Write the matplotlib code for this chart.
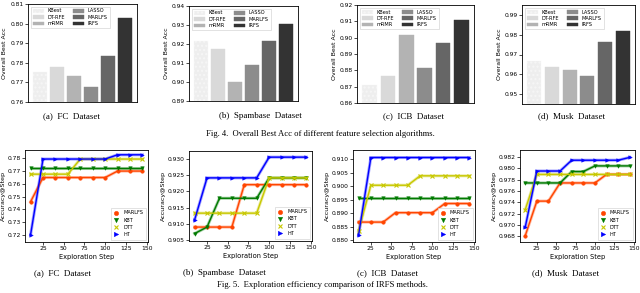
import matplotlib; matplotlib.use('Agg')
import matplotlib.pyplot as plt
from matplotlib.lines import Line2D

# ---- data: Fig. 4 (overall best accuracy) ----
methods = ["KBest", "DT-RFE", "mRMR", "LASSO", "MARLFS", "IRFS"]
bar_fc = [0.7752, 0.7777, 0.7732, 0.7678, 0.7837, 0.8030]
bar_spam = [0.9218, 0.9175, 0.8998, 0.9088, 0.9218, 0.9305]
bar_icb = [0.8712, 0.8763, 0.9017, 0.8815, 0.8970, 0.9108]
bar_musk = [0.9667, 0.9635, 0.9621, 0.9591, 0.9763, 0.9818]

# ---- data: Fig. 5 (accuracy per exploration step) ----
steps = [10, 25, 40, 55, 70, 85, 100, 115, 130, 145]
series_names = ["MARLFS", "KBT", "DTT", "HT"]

fc_marlfs = [0.746, 0.7647, 0.7647, 0.7647, 0.7647, 0.7647, 0.7647, 0.7697, 0.7697, 0.7697]
fc_kbt = [0.7717] * 10
fc_dtt = [0.7673, 0.7673, 0.7673, 0.7673, 0.779, 0.779, 0.779, 0.779, 0.779, 0.779]
fc_ht = [0.7205, 0.779, 0.779, 0.779, 0.779, 0.779, 0.779, 0.7823, 0.7823, 0.7823]

sp_marlfs = [0.9090, 0.9090, 0.9090, 0.9090, 0.9221, 0.9221, 0.9221, 0.9221, 0.9221, 0.9221]
sp_kbt = [0.9070, 0.9090, 0.9179, 0.9179, 0.9179, 0.9179, 0.9242, 0.9242, 0.9242, 0.9242]
sp_dtt = [0.9133, 0.9133, 0.9133, 0.9133, 0.9133, 0.9133, 0.9242, 0.9242, 0.9242, 0.9242]
sp_ht = [0.9112, 0.9242, 0.9242, 0.9242, 0.9242, 0.9242, 0.9306, 0.9306, 0.9306, 0.9306]

icb_marlfs = [0.8867, 0.8867, 0.8867, 0.8902, 0.8902, 0.8902, 0.8902, 0.8936, 0.8936, 0.8936]
icb_kbt = [0.8955] * 10
icb_dtt = [0.8834, 0.9004, 0.9004, 0.9004, 0.9004, 0.9039, 0.9039, 0.9039, 0.9039, 0.9039]
icb_ht = [0.8818, 0.9107, 0.9107, 0.9107, 0.9107, 0.9107, 0.9107, 0.9107, 0.9107, 0.9107]

mu_marlfs = [0.9681, 0.9742, 0.9742, 0.9774, 0.9774, 0.9774, 0.9774, 0.9789, 0.9789, 0.9789]
mu_kbt = [0.9774, 0.9774, 0.9774, 0.9774, 0.9794, 0.9794, 0.9804, 0.9804, 0.9804, 0.9804]
mu_dtt = [0.9727, 0.9789, 0.9789, 0.9789, 0.9789, 0.9789, 0.9789, 0.9789, 0.9789, 0.9789]
mu_ht = [0.9696, 0.9795, 0.9795, 0.9795, 0.9814, 0.9814, 0.9814, 0.9814, 0.9814, 0.9819]

bar_colors = ["#eeeeee", "#d9d9d9", "#b3b3b3", "#8c8c8c", "#666666", "#333333"]
line_colors = ["#ff4500", "#007a00", "#c8c800", "#0000ff"]
line_markers = ["o", "v", "x", ">"]

W, H = 640, 293
fig = plt.figure(figsize=(W / 100, H / 100), dpi=100)
plt.rcParams['font.family'] = 'DejaVu Sans'
serif = 'Liberation Serif'


def ax_px(l, t, r, b):
    return fig.add_axes([l / W, 1 - b / H, (r - l) / W, (b - t) / H])


def style(ax):
    ax.tick_params(labelsize=4.3, length=2, width=0.5, pad=1.2)
    for s in ax.spines.values():
        s.set_linewidth(0.6)


bar_sets = [
    (bar_fc, (0.76, 0.81), [0.76, 0.77, 0.78, 0.79, 0.80, 0.81], (28, 4, 137, 102)),
    (bar_spam, (0.89, 0.94), [0.89, 0.90, 0.91, 0.92, 0.93, 0.94], (189, 6, 298, 101)),
    (bar_icb, (0.86, 0.92), [0.86, 0.87, 0.88, 0.89, 0.90, 0.91, 0.92], (357, 5, 474, 103)),
    (bar_musk, (0.945, 0.995), [0.95, 0.96, 0.97, 0.98, 0.99], (522, 5, 635, 104)),
]
for vals, ylim, yt, box in bar_sets:
    ax = ax_px(*box)
    for i, (m, v, c) in enumerate(zip(methods, vals, bar_colors)):
        ax.bar(i, v - ylim[0], bottom=ylim[0], width=0.8, color=c, label=m,
               edgecolor='#f6f6f6' if i == 0 else c, hatch='....' if i == 0 else None,
               linewidth=0.3)
    ax.set_ylim(*ylim)
    ax.set_yticks(yt)
    ax.set_yticklabels([f"{t:.2f}" for t in yt])
    ax.set_xticks([])
    ax.set_ylabel("Overall Best Acc", fontsize=4.5, labelpad=2)
    style(ax)
    ax.legend(ncol=2, fontsize=3.6, loc='upper left', frameon=True, framealpha=1,
              edgecolor='#cccccc', handlelength=2.2, columnspacing=1.5,
              borderpad=0.4, labelspacing=0.25, fancybox=False).get_frame().set_linewidth(0.4)

line_sets = [
    ([fc_marlfs, fc_kbt, fc_dtt, fc_ht], (0.7148, 0.786),
     [0.72, 0.73, 0.74, 0.75, 0.76, 0.77, 0.78], "{:.2f}", (25, 150, 148, 242)),
    ([sp_marlfs, sp_kbt, sp_dtt, sp_ht], (0.9047, 0.9325),
     [0.905, 0.910, 0.915, 0.920, 0.925, 0.930], "{:.3f}", (189, 151, 312, 241)),
    ([icb_marlfs, icb_kbt, icb_dtt, icb_ht], (0.8793, 0.9135),
     [0.880, 0.885, 0.890, 0.895, 0.900, 0.905, 0.910], "{:.3f}", (353, 150, 475, 242)),
    ([mu_marlfs, mu_kbt, mu_dtt, mu_ht], (0.967, 0.9832),
     [0.968, 0.970, 0.972, 0.974, 0.976, 0.978, 0.980, 0.982], "{:.3f}", (520, 150, 635, 242)),
]
for series, ylim, yt, fmt, box in line_sets:
    ax = ax_px(*box)
    handles = []
    for name, ys, c, mk in zip(series_names, series, line_colors, line_markers):
        ax.plot(steps, ys, color=c, linewidth=2.2, alpha=0.35, zorder=2)
        ax.plot(steps, ys, color=c, linewidth=1.0, marker=mk, markersize=2.6,
                markeredgewidth=0.8 if mk == 'x' else 0.3, zorder=3)
        handles.append(Line2D([], [], color=c, marker=mk, linestyle='none',
                              markersize=3.2, markeredgewidth=0.8 if mk == 'x' else 0.3,
                              label=name))
    ax.set_ylim(*ylim)
    ax.set_yticks(yt)
    ax.set_yticklabels([fmt.format(t) for t in yt])
    ax.set_xticks([25, 50, 75, 100, 125, 150])
    ax.set_xlabel("Exploration Step", fontsize=4.8, labelpad=1.5)
    ax.set_ylabel("Accuracy@Step", fontsize=4.6, labelpad=1)
    style(ax)
    ax.legend(handles=handles, fontsize=3.6, loc='lower right', frameon=True,
              framealpha=1, edgecolor='#cccccc', fancybox=False, handlelength=1.2,
              borderpad=0.5, labelspacing=0.45).get_frame().set_linewidth(0.4)

# captions
top_caps = [("(a)  FC  Dataset", 71), ("(b)  Spambase  Dataset", 260),
            ("(c)  ICB  Dataset", 413), ("(d)  Musk  Dataset", 572)]
for txt, x in top_caps:
    fig.text(x / W, 1 - 116 / H, txt, ha='center', va='center', fontsize=6.5, family=serif)
fig.text(320 / W, 1 - 134 / H,
         "Fig. 4.  Overall Best Acc of different feature selection algorithms.",
         ha='center', va='center', fontsize=6.2, family=serif)

bot_caps = [("(a)  FC  Dataset", 62), ("(b)  Spambase  Dataset", 224),
            ("(c)  ICB  Dataset", 387), ("(d)  Musk  Dataset", 566)]
for txt, x in bot_caps:
    fig.text(x / W, 1 - 273 / H, txt, ha='center', va='center', fontsize=6.5, family=serif)
fig.text(322 / W, 1 - 285 / H,
         "Fig. 5.  Exploration efficiency comparison of IRFS methods.",
         ha='center', va='center', fontsize=6.2, family=serif)

fig.savefig("out.png", dpi=100)
